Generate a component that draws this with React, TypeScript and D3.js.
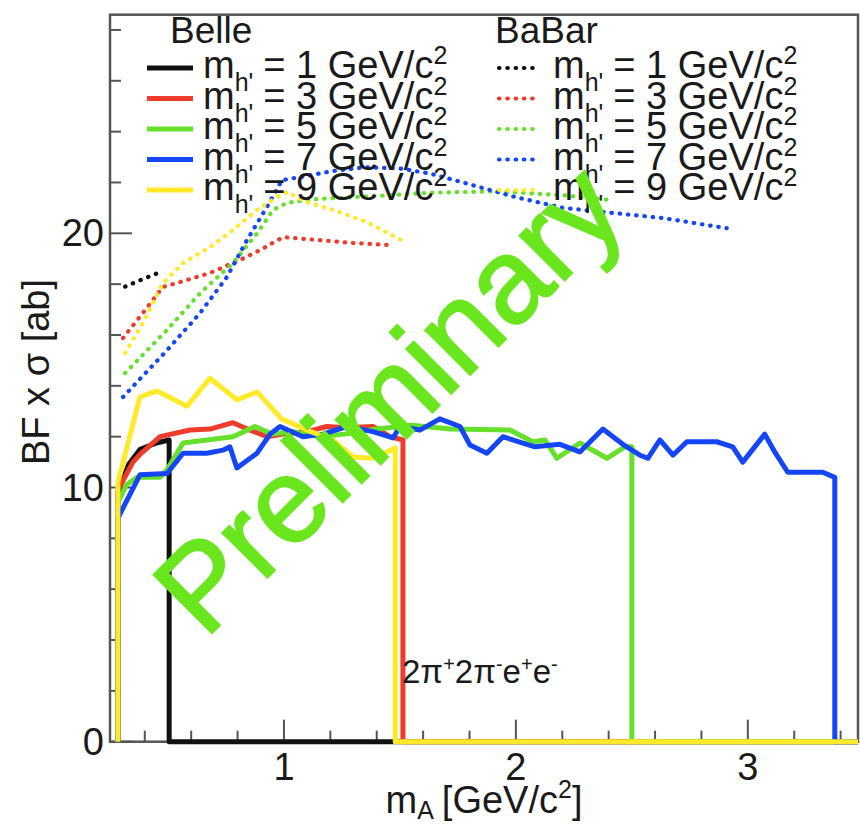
import React from 'react';
import * as d3 from 'd3';

type Pt = [number, number];

// Axis settings
const X_DOMAIN: [number, number] = [0.25, 3.475];
const Y_DOMAIN: [number, number] = [0, 28.6];
const xMajorTicks = [1, 2, 3];
const yMajorTicks = [0, 10, 20];

// Legend entries (h' mass in GeV/c^2) and colours
const massValues = [1, 3, 5, 7, 9];
const seriesColors = ['#111111', '#ee3b2b', '#66e02a', '#1446f5', '#ffea2a'];

// Belle upper limits, BF x sigma [ab] vs m_A [GeV/c^2]
const belleM1: Pt[] = [[0.284, 0], [0.284, 9.8], [0.33, 10.9], [0.38, 11.5], [0.45, 11.75], [0.505, 11.87], [0.505, 0], [3.475, 0]];
const belleM3: Pt[] = [[0.284, 0], [0.284, 9.9], [0.349, 11.0], [0.379, 11.3], [0.466, 12.0], [0.595, 12.26], [0.681, 12.3], [0.78, 12.55], [0.853, 12.26], [0.927, 12.0], [0.995, 12.1], [1.1, 12.2], [1.185, 12.4], [1.27, 12.35], [1.384, 12.4], [1.457, 12.0], [1.513, 11.87], [1.513, 0], [3.475, 0]];
const belleM5: Pt[] = [[0.284, 0], [0.284, 9.4], [0.32, 10.1], [0.366, 10.4], [0.466, 10.4], [0.496, 10.7], [0.565, 11.75], [0.668, 11.87], [0.78, 12.0], [0.875, 12.4], [0.95, 12.1], [1.04, 12.2], [1.15, 12.0], [1.26, 12.1], [1.4, 12.3], [1.55, 12.45], [1.72, 12.3], [1.974, 12.26], [2.073, 11.8], [2.125, 11.87], [2.177, 11.15], [2.276, 11.75], [2.392, 11.15], [2.47, 11.6], [2.5, 11.6], [2.5, 0], [3.475, 0]];
const belleM7: Pt[] = [[0.284, 0], [0.284, 8.8], [0.379, 10.5], [0.496, 10.55], [0.565, 11.35], [0.668, 11.35], [0.737, 11.47], [0.767, 11.6], [0.797, 10.77], [0.884, 11.35], [0.94, 12.1], [0.983, 12.4], [1.082, 12.0], [1.168, 12.1], [1.272, 12.4], [1.384, 12.2], [1.47, 11.95], [1.5, 12.4], [1.586, 12.26], [1.672, 12.7], [1.759, 12.4], [1.802, 11.67], [1.875, 11.35], [1.944, 12.0], [2.03, 11.75], [2.082, 11.6], [2.19, 11.7], [2.276, 11.4], [2.375, 12.3], [2.461, 11.7], [2.535, 11.27], [2.569, 11.15], [2.621, 11.87], [2.677, 11.27], [2.737, 11.8], [2.866, 11.8], [2.935, 11.6], [2.978, 11.0], [3.073, 12.1], [3.116, 11.4], [3.172, 10.6], [3.323, 10.6], [3.375, 10.4], [3.375, 0], [3.475, 0]];
const belleM9: Pt[] = [[0.284, 0], [0.284, 10.2], [0.379, 13.56], [0.453, 13.8], [0.582, 13.2], [0.681, 14.3], [0.797, 13.45], [0.884, 13.76], [0.99, 12.7], [1.099, 12.26], [1.211, 11.87], [1.297, 11.2], [1.384, 11.15], [1.48, 11.55], [1.48, 0], [3.475, 0]];

// BaBar upper limits
const babarM1: Pt[] = [[0.315, 17.9], [0.392, 18.2], [0.474, 18.5]];
const babarM3: Pt[] = [[0.306, 15.88], [0.392, 16.87], [0.478, 17.89], [0.552, 18.08], [0.681, 18.44], [0.81, 18.95], [0.897, 19.34], [0.996, 19.85], [1.142, 19.74], [1.297, 19.62], [1.448, 19.54]];
const babarM5: Pt[] = [[0.315, 14.5], [0.496, 16.2], [0.638, 17.64], [0.78, 18.83], [0.884, 20.0], [0.953, 20.92], [1.013, 21.2], [1.142, 21.35], [1.358, 21.45], [1.642, 21.6], [1.931, 21.65], [2.2, 21.5], [2.418, 21.3]];
const babarM7: Pt[] = [[0.306, 13.56], [0.496, 15.4], [0.638, 16.86], [0.754, 18.28], [0.841, 19.74], [0.927, 21.04], [0.991, 22.09], [1.069, 22.21], [1.211, 22.45], [1.35, 22.6], [1.5, 22.55], [1.63, 22.35], [1.772, 22.0], [1.987, 21.45], [2.203, 21.0], [2.418, 20.8], [2.634, 20.6], [2.909, 20.2]];
const babarM9: Pt[] = [[0.315, 15.29], [0.392, 16.47], [0.478, 18.04], [0.565, 18.83], [0.681, 19.46], [0.78, 20.13], [0.884, 20.92], [0.97, 21.43], [1.013, 21.62], [1.099, 21.23], [1.211, 20.92], [1.358, 20.44], [1.53, 19.62]];

const belleSeries = [belleM1, belleM3, belleM5, belleM7, belleM9];
const babarSeries = [babarM1, babarM3, babarM5, babarM7, babarM9];

const FONT = '"Liberation Sans", Arial, Helvetica, sans-serif';
const FRAME = '#555555';
const WATERMARK = '#6ae61e';
const DOTS = '0.5 7.8';

function MassLabel({ x, y, mass }: { x: number; y: number; mass: number }) {
  return (
    <text x={x} y={y} fontSize={38} fill="#1a1a1a">
      m
      <tspan dy={13} fontSize={25}>h'</tspan>
      <tspan dy={-13} dx={10}>{`= ${mass} GeV/c`}</tspan>
      <tspan dy={-14} fontSize={25}>2</tspan>
    </text>
  );
}

export default function App() {
  const x = d3.scaleLinear().domain(X_DOMAIN).range([110, 858]);
  const y = d3.scaleLinear().domain(Y_DOMAIN).range([741.7, 14.7]);
  const line = d3.line<Pt>().x(d => x(d[0])).y(d => y(d[1]));

  const xMinor = d3.range(2, 18).map(i => i * 0.2).filter(v => Math.abs(v - Math.round(v)) > 1e-6);
  const yMinor = d3.range(2, 29, 2).filter(v => v % 10 !== 0);

  const [x0, x1] = x.range();
  const [yBottom, yTop] = y.range();

  const rowY = (i: number) => 78 + i * 30.5;

  return (
    <svg width={860} height={825} style={{ position: 'absolute', left: 0, top: 0, background: '#fff' }} fontFamily={FONT}>
      <rect x={0} y={0} width={860} height={825} fill="#ffffff" />
      {/* frame */}
      <rect x={x0} y={yTop} width={x1 - x0} height={yBottom - yTop} fill="none" stroke={FRAME} strokeWidth={2.5} />

      {/* y ticks */}
      {yMajorTicks.map(v => (
        <g key={`ym${v}`}>
          <line x1={x0} x2={x0 + 22} y1={y(v)} y2={y(v)} stroke={FRAME} strokeWidth={2} />
          <text x={104} y={y(v) + 13} fontSize={38} textAnchor="end" fill="#1a1a1a">{v}</text>
        </g>
      ))}
      {yMinor.map(v => (
        <line key={`yn${v}`} x1={x0} x2={x0 + 11} y1={y(v)} y2={y(v)} stroke={FRAME} strokeWidth={2} />
      ))}

      {/* x ticks */}
      {xMajorTicks.map(v => (
        <g key={`xm${v}`}>
          <line x1={x(v)} x2={x(v)} y1={yBottom} y2={yBottom - 22} stroke={FRAME} strokeWidth={2} />
          <text x={x(v)} y={780} fontSize={38} textAnchor="middle" fill="#1a1a1a">{v}</text>
        </g>
      ))}
      {xMinor.map(v => (
        <line key={`xn${v.toFixed(1)}`} x1={x(v)} x2={x(v)} y1={yBottom} y2={yBottom - 11} stroke={FRAME} strokeWidth={2} />
      ))}

      {/* Belle curves */}
      {belleSeries.map((s, i) => (
        <path key={`belle${i}`} d={line(s) ?? ''} fill="none" stroke={seriesColors[i]} strokeWidth={5} strokeLinejoin="round" />
      ))}

      {/* BaBar curves */}
      {babarSeries.map((s, i) => (
        <path key={`babar${i}`} d={line(s) ?? ''} fill="none" stroke={seriesColors[i]} strokeWidth={4.2} strokeDasharray={DOTS} strokeLinecap="round" />
      ))}

      {/* legends */}
      <text x={170} y={43} fontSize={37} fill="#1a1a1a">Belle</text>
      <text x={495} y={43} fontSize={37} fill="#1a1a1a">BaBar</text>
      {massValues.map((m, i) => (
        <g key={`leg${m}`}>
          <line x1={147} x2={193} y1={rowY(i) - 10} y2={rowY(i) - 10} stroke={seriesColors[i]} strokeWidth={5} />
          <MassLabel x={203} y={rowY(i)} mass={m} />
          <line x1={499} x2={539} y1={rowY(i) - 10} y2={rowY(i) - 10} stroke={seriesColors[i]} strokeWidth={4.2} strokeDasharray={DOTS} strokeLinecap="round" />
          <MassLabel x={553} y={rowY(i)} mass={m} />
        </g>
      ))}

      {/* decay channel */}
      <text x={402} y={683} fontSize={33} fill="#1a1a1a">
        2π<tspan dy={-12} fontSize={20}>+</tspan>
        <tspan dy={12}>2π</tspan><tspan dy={-12} fontSize={20}>-</tspan>
        <tspan dy={12}>e</tspan><tspan dy={-12} fontSize={20}>+</tspan>
        <tspan dy={12}>e</tspan><tspan dy={-12} fontSize={20}>-</tspan>
      </text>

      {/* axis titles */}
      <text x={484} y={813} fontSize={38} textAnchor="middle" fill="#1a1a1a">
        m<tspan dy={6} fontSize={25}>A</tspan>
        <tspan dy={-6} dx={8}>[GeV/c</tspan><tspan dy={-15} fontSize={25}>2</tspan><tspan dy={15}>]</tspan>
      </text>
      <text transform="translate(49,372) rotate(-90)" fontSize={38} textAnchor="middle" fill="#1a1a1a">BF x σ [ab]</text>

      {/* watermark */}
      <text transform="translate(205,640) rotate(-45)" fontSize={120} fill={WATERMARK} stroke={WATERMARK} strokeWidth={2}>Preliminary</text>
    </svg>
  );
}
